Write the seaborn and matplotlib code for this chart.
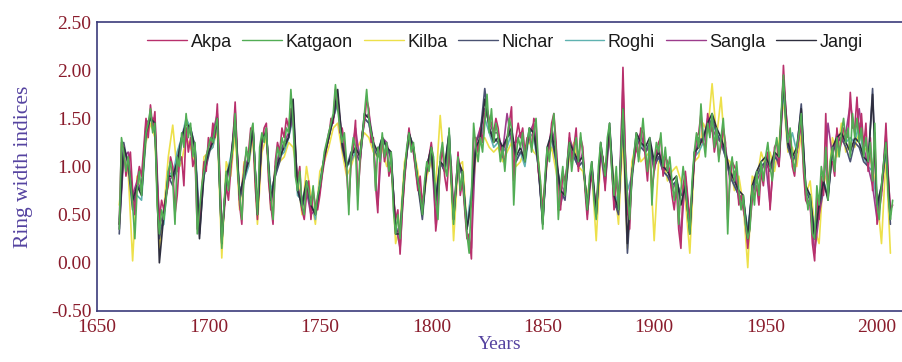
import numpy as np
import pandas as pd
import seaborn as sns
import matplotlib.pyplot as plt
from matplotlib.ticker import MultipleLocator

# yearly chronologies, 1660-2007
years_annual = list(range(1660, 2008))
katgaon = [
    0.35, 1.30, 1.15, 0.95, 1.10, 0.85, 0.60, 0.25, 0.75, 0.95,
    0.70, 1.05, 1.35, 1.45, 1.60, 1.35, 1.45, 0.60, 0.30, 0.55,
    0.45, 0.65, 0.95, 1.05, 0.85, 0.40, 1.10, 1.00, 1.35, 1.20,
    1.55, 1.30, 1.45, 1.10, 1.25, 0.30, 0.55, 0.80, 0.95, 1.10,
    1.20, 1.30, 1.25, 1.40, 1.50, 0.85, 0.15, 0.60, 0.95, 0.75,
    1.05, 1.20, 1.55, 1.00, 0.70, 0.45, 0.90, 1.20, 1.05, 1.35,
    1.45, 0.95, 0.50, 1.20, 1.35, 1.25, 1.40, 0.95, 0.70, 0.45,
    0.95, 1.20, 1.10, 1.30, 1.20, 1.40, 1.35, 1.80, 1.45, 0.90,
    0.75, 0.95, 0.60, 0.50, 0.85, 0.75, 0.60, 0.80, 0.50, 0.70,
    0.80, 0.95, 1.15, 1.25, 1.35, 1.45, 1.55, 1.85, 1.60, 1.40,
    1.25, 1.35, 1.05, 0.50, 1.10, 1.30, 1.20, 0.55, 1.10, 1.30,
    1.55, 1.80, 1.50, 1.35, 1.25, 0.75, 1.20, 1.05, 1.35, 1.10,
    1.25, 0.95, 1.15, 0.55, 0.30, 0.50, 0.25, 0.65, 0.95, 1.20,
    1.35, 1.15, 1.25, 1.00, 0.85, 0.70, 0.50, 0.85, 1.05, 0.95,
    1.20, 1.10, 0.65, 0.45, 1.10, 1.25, 1.00, 0.90, 1.40, 0.85,
    0.40, 0.80, 1.10, 0.75, 0.95, 0.60, 0.30, 0.10, 0.70, 1.45,
    1.20, 1.05, 1.30, 1.15, 1.45, 1.75, 1.35, 1.60, 1.25, 1.45,
    1.30, 1.05, 1.20, 0.95, 1.25, 1.50, 1.40, 0.60, 1.10, 1.30,
    1.20, 1.35, 1.05, 1.25, 1.40, 1.15, 1.35, 1.50, 1.05, 0.85,
    0.35, 0.90, 1.20, 1.05, 1.35, 1.55, 1.10, 0.45, 0.80, 1.00,
    0.70, 1.05, 1.25, 0.95, 1.15, 1.30, 1.05, 1.35, 1.10, 0.80,
    0.55, 0.90, 1.05, 0.65, 0.45, 1.00, 1.25, 1.05, 0.90, 1.30,
    1.45, 0.95, 0.70, 1.00, 0.55, 1.10, 1.60, 1.05, 0.70, 0.45,
    0.90, 1.15, 1.35, 1.05, 1.25, 1.50, 1.20, 0.95, 1.30, 0.60,
    1.05, 1.25, 1.15, 1.35, 1.00, 1.20, 0.95, 1.10, 0.85, 0.65,
    0.90, 0.40, 0.75, 1.00, 0.80, 0.55, 0.30, 0.85, 1.15, 1.35,
    1.20, 1.65, 1.30, 1.10, 1.45, 1.30, 1.55, 1.20, 1.40, 1.05,
    1.30, 1.50, 1.15, 0.30, 0.95, 1.10, 0.85, 1.05, 0.75, 0.55,
    0.70, 0.40, 0.25, 0.35, 0.80, 0.60, 0.95, 0.70, 1.05, 0.85,
    1.10, 1.25, 1.00, 0.85, 1.15, 1.30, 1.10, 1.55, 1.95, 1.50,
    1.25, 1.40, 1.10, 0.95, 1.20, 1.35, 1.55, 1.05, 0.80, 0.55,
    0.70, 0.30, 0.25, 0.80, 0.60, 1.00, 0.85, 1.20, 0.65, 1.05,
    1.20, 0.95, 1.30, 1.10, 1.35, 1.50, 1.25, 1.40, 1.10, 1.55,
    1.30, 1.50, 1.25, 1.40, 1.10, 1.30, 1.05, 1.25, 0.85, 1.45,
    0.60, 0.45, 0.80, 1.05, 1.25, 0.70, 0.45, 0.65,
]
akpa = [
    0.40, 1.25, 1.20, 0.90, 1.05, 1.15, 0.75, 0.50, 0.85, 1.00,
    0.90, 1.20, 1.50, 1.30, 1.64, 1.40, 1.57, 0.85, 0.45, 0.65,
    0.55, 0.70, 0.80, 1.10, 1.00, 0.50, 0.70, 1.05, 1.10, 0.80,
    1.40, 1.15, 1.30, 1.00, 1.10, 0.35, 0.40, 0.75, 1.05, 0.95,
    1.30, 1.20, 1.45, 1.30, 1.65, 1.00, 0.35, 0.50, 0.80, 0.65,
    0.95, 1.25, 1.67, 1.10, 0.60, 0.40, 1.00, 1.15, 1.15, 1.40,
    1.35, 0.80, 0.45, 1.05, 1.25, 1.40, 1.45, 0.85, 0.60, 0.40,
    1.05, 1.25, 1.15, 1.40, 1.30, 1.50, 1.40, 1.60, 1.55, 1.05,
    0.85, 1.00, 0.55, 0.45, 0.70, 0.85, 0.45, 0.75, 0.60, 0.55,
    0.70, 0.90, 1.05, 1.20, 1.30, 1.50, 1.45, 1.80, 1.75, 1.35,
    1.40, 1.25, 0.95, 0.60, 1.05, 1.20, 1.48, 0.70, 1.00, 1.35,
    1.45, 1.70, 1.60, 1.25, 1.30, 0.80, 0.52, 1.15, 1.30, 1.05,
    1.20, 0.90, 1.00, 0.70, 0.45, 0.55, 0.09, 0.55, 0.85, 1.15,
    1.40, 1.20, 1.15, 0.95, 0.75, 0.90, 0.60, 0.80, 0.95, 1.10,
    1.25, 1.05, 0.33, 0.55, 1.00, 1.20, 0.90, 0.75, 1.15, 1.00,
    0.55, 0.75, 1.15, 0.70, 0.85, 0.55, 0.25, 0.30, 0.04, 1.30,
    1.30, 1.15, 1.40, 1.25, 1.55, 1.60, 1.50, 1.45, 1.35, 1.50,
    1.40, 1.20, 1.10, 1.05, 1.30, 1.45, 1.62, 0.85, 1.30, 1.45,
    1.30, 1.40, 1.15, 1.30, 1.30, 1.20, 1.50, 1.45, 0.95, 0.80,
    0.55, 0.85, 1.10, 1.20, 1.45, 1.55, 1.25, 0.55, 0.55, 0.95,
    0.85, 1.00, 1.35, 1.05, 1.20, 1.40, 0.95, 1.30, 1.20, 0.75,
    0.45, 0.80, 0.90, 0.75, 0.55, 0.90, 1.15, 1.10, 0.75, 1.20,
    1.35, 1.00, 0.55, 0.90, 0.60, 1.00, 2.03, 1.15, 0.55, 0.35,
    0.95, 1.05, 1.20, 1.10, 1.40, 1.35, 1.10, 0.85, 1.20, 0.75,
    0.95, 1.15, 1.25, 1.30, 0.90, 1.10, 1.05, 0.95, 0.70, 0.55,
    0.80, 0.35, 0.15, 0.80, 0.95, 0.70, 0.45, 0.75, 1.05, 1.30,
    1.35, 1.55, 1.25, 1.20, 1.55, 1.35, 1.40, 1.15, 1.30, 1.10,
    1.20, 1.40, 1.25, 0.45, 0.85, 1.05, 1.00, 0.95, 0.60, 0.70,
    0.55, 0.45, 0.15, 0.40, 0.65, 0.70, 0.80, 0.60, 0.95, 0.80,
    1.05, 1.15, 0.55, 0.90, 1.20, 1.25, 1.00, 1.40, 2.05, 1.60,
    1.35, 1.30, 1.00, 0.90, 1.15, 1.30, 1.45, 0.95, 0.65, 0.60,
    0.60, 0.20, 0.02, 0.70, 0.45, 0.90, 0.70, 1.55, 0.75, 1.00,
    1.05, 0.90, 1.40, 1.15, 1.25, 1.40, 1.35, 1.30, 1.77, 1.40,
    1.40, 1.72, 1.30, 1.55, 1.20, 1.45, 0.95, 1.30, 0.75, 1.35,
    0.40, 0.55, 0.70, 1.00, 1.45, 0.90, 0.55, 0.60,
]

# the other sites, read every second year, 1660-2006
years_biennial = list(range(1660, 2007, 2))
kilba = [
    0.60, 1.10, 0.95, 0.02, 0.90, 0.80, 1.25, 1.45, 1.30, 0.15,
    0.55, 1.10, 1.43, 0.95, 1.05, 1.30, 1.20, 1.05, 0.35, 1.10,
    1.15, 1.20, 1.40, 0.05, 1.05, 0.90, 1.35, 0.55, 1.05, 1.00,
    1.30, 0.40, 1.15, 1.30, 0.55, 1.00, 1.05, 1.10, 1.25, 1.20,
    0.90, 0.50, 1.00, 0.70, 0.40, 0.95, 1.05, 1.20, 1.40, 1.45,
    1.15, 0.90, 1.00, 1.15, 1.25, 1.35, 1.30, 1.15, 1.10, 1.20,
    1.00, 1.05, 0.20, 0.40, 1.05, 1.25, 1.20, 0.95, 0.55, 0.90,
    1.05, 0.80, 1.53, 0.95, 1.25, 0.23, 1.00, 1.05, 0.40, 0.60,
    1.10, 1.25, 1.30, 1.20, 1.15, 1.20, 1.05, 1.15, 1.25, 1.00,
    1.05, 1.20, 1.25, 1.15, 1.10, 0.55, 1.05, 1.20, 0.95, 0.65,
    0.75, 1.10, 1.25, 1.00, 0.95, 0.70, 0.95, 0.23, 1.10, 1.00,
    1.30, 0.85, 0.40, 1.30, 0.15, 1.05, 1.25, 1.05, 1.10, 1.15,
    0.23, 1.05, 1.10, 0.85, 0.95, 1.00, 0.85, 0.65, 0.10, 1.05,
    1.10, 1.45, 1.35, 1.86, 1.30, 1.72, 1.10, 1.05, 0.75, 0.90,
    0.60, -0.05, 0.90, 0.85, 1.15, 1.00, 1.15, 0.95, 1.25, 1.70,
    1.15, 1.20, 1.00, 1.35, 0.70, 0.85, 0.35, 0.20, 0.95, 0.80,
    1.30, 1.10, 1.45, 1.15, 1.25, 1.20, 1.35, 1.20, 1.15, 1.00,
    0.70, 0.20, 1.10, 0.10,
]
nichar = [
    0.30, 1.25, 1.00, 0.55, 0.80, 0.75, 1.40, 1.50, 1.40, 0.25,
    0.50, 0.90, 0.80, 1.05, 1.30, 1.45, 1.35, 1.20, 0.30, 0.90,
    1.10, 1.30, 1.45, 0.20, 0.90, 1.00, 1.50, 0.65, 0.85, 1.10,
    1.40, 0.55, 1.30, 1.35, 0.65, 0.90, 1.05, 1.25, 1.30, 1.60,
    0.80, 0.55, 0.80, 0.55, 0.55, 0.75, 1.10, 1.30, 1.50, 1.70,
    1.20, 0.99, 1.15, 1.15, 1.05, 1.50, 1.45, 1.20, 1.10, 1.30,
    1.20, 1.10, 0.35, 0.30, 0.90, 1.35, 1.20, 0.80, 0.45, 1.00,
    1.15, 0.60, 1.05, 0.95, 1.35, 0.45, 1.05, 0.90, 0.35, 0.65,
    1.25, 1.35, 1.81, 1.40, 1.30, 1.25, 1.15, 1.30, 1.35, 1.05,
    1.15, 1.10, 1.35, 1.40, 1.00, 0.40, 1.15, 1.30, 1.05, 0.75,
    0.65, 1.20, 1.10, 1.00, 1.05, 0.60, 1.00, 0.50, 1.20, 0.85,
    1.40, 0.65, 0.50, 1.55, 0.10, 0.85, 1.30, 1.20, 1.15, 1.25,
    1.00, 1.10, 0.95, 0.90, 0.80, 0.85, 0.70, 0.75, 0.35, 1.10,
    1.25, 1.30, 1.40, 1.50, 1.35, 1.25, 1.10, 0.90, 0.80, 0.70,
    0.65, 0.30, 0.75, 0.90, 1.00, 1.05, 0.95, 1.10, 1.05, 1.85,
    1.20, 1.05, 1.15, 1.65, 0.75, 0.65, 0.30, 0.55, 0.80, 0.70,
    1.15, 1.25, 1.30, 1.20, 1.05, 1.25, 1.20, 1.05, 1.00, 1.81,
    0.55, 0.75, 1.20, 0.40,
]
roghi = [
    0.45, 1.15, 1.05, 0.65, 0.70, 0.65, 1.30, 1.55, 1.40, 0.35,
    0.40, 0.95, 0.90, 1.15, 1.30, 1.50, 1.40, 1.20, 0.50, 0.90,
    1.15, 1.20, 1.45, 0.25, 0.90, 1.10, 1.45, 0.75, 0.85, 1.00,
    1.40, 0.55, 1.30, 1.35, 0.75, 0.90, 1.10, 1.15, 1.30, 1.50,
    0.70, 0.65, 0.80, 0.65, 0.45, 0.85, 1.10, 1.30, 1.50, 1.65,
    1.30, 1.00, 1.05, 1.15, 1.15, 1.50, 1.45, 1.20, 1.15, 1.30,
    1.20, 1.10, 0.35, 0.35, 0.95, 1.30, 1.20, 0.85, 0.55, 1.00,
    1.15, 0.70, 1.05, 0.95, 1.35, 0.50, 1.05, 0.90, 0.40, 0.75,
    1.15, 1.25, 1.50, 1.35, 1.20, 1.25, 1.15, 1.20, 1.35, 1.05,
    1.15, 1.00, 1.35, 1.30, 1.00, 0.45, 1.15, 1.30, 1.05, 0.80,
    0.75, 1.20, 1.10, 1.00, 1.05, 0.60, 1.00, 0.50, 1.20, 0.90,
    1.40, 0.75, 0.60, 1.50, 0.75, 0.90, 1.30, 1.25, 1.15, 1.25,
    1.00, 1.10, 0.95, 0.90, 0.80, 0.85, 0.70, 0.80, 0.40, 1.10,
    1.15, 1.25, 1.40, 1.45, 1.35, 1.25, 1.10, 0.90, 0.80, 0.70,
    0.65, 0.35, 0.75, 0.90, 1.00, 1.05, 0.95, 1.10, 1.05, 1.80,
    1.20, 1.35, 1.15, 1.45, 0.80, 0.65, 0.35, 0.60, 0.85, 0.70,
    1.15, 1.25, 1.30, 1.25, 1.30, 1.25, 1.45, 1.10, 1.00, 0.95,
    0.60, 0.80, 1.15, 0.50,
]
sangla = [
    0.35, 1.10, 1.15, 0.70, 0.85, 0.75, 1.45, 1.50, 1.50, 0.40,
    0.50, 0.85, 0.90, 0.95, 1.25, 1.40, 1.35, 1.15, 0.40, 1.00,
    1.20, 1.35, 1.55, 0.30, 0.85, 1.00, 1.60, 0.65, 0.95, 1.10,
    1.40, 0.50, 1.25, 1.40, 0.55, 1.00, 1.15, 1.25, 1.35, 1.50,
    0.80, 0.60, 0.75, 0.50, 0.55, 0.75, 1.10, 1.35, 1.50, 1.70,
    1.30, 1.00, 1.10, 1.40, 1.05, 1.50, 1.55, 1.25, 0.60, 1.30,
    1.25, 1.05, 0.40, 0.15, 0.90, 1.35, 1.15, 0.80, 0.55, 1.00,
    1.20, 0.40, 1.05, 0.95, 1.20, 0.50, 1.10, 0.90, 0.30, 0.15,
    1.25, 1.40, 1.60, 1.45, 1.35, 1.35, 1.15, 1.55, 1.25, 1.25,
    1.35, 1.10, 1.35, 1.45, 1.00, 0.45, 1.10, 1.40, 1.20, 0.60,
    0.80, 1.30, 1.15, 1.00, 1.15, 0.50, 0.95, 0.50, 1.15, 0.80,
    1.35, 0.60, 0.55, 1.85, 0.50, 0.95, 1.25, 1.35, 1.15, 1.20,
    0.95, 1.20, 0.95, 1.00, 0.75, 0.85, 0.25, 0.90, 0.40, 1.05,
    1.30, 1.25, 1.50, 1.40, 1.30, 1.25, 1.20, 0.85, 0.95, 0.65,
    0.60, 0.20, 0.70, 0.85, 0.95, 1.05, 0.60, 1.15, 1.00, 1.95,
    1.30, 1.05, 1.15, 1.50, 0.70, 0.60, 0.10, 0.50, 0.75, 1.45,
    1.10, 1.35, 1.25, 1.35, 1.65, 1.35, 1.60, 1.20, 1.00, 0.80,
    0.45, 0.75, 1.35, 0.50,
]
jangi = [
    0.40, 1.20, 1.05, 0.65, 0.80, 0.70, 1.35, 1.50, 1.45, 0.00,
    0.50, 0.90, 0.90, 1.05, 1.30, 1.45, 1.40, 1.20, 0.25, 0.95,
    1.15, 1.25, 1.50, 0.20, 0.90, 1.05, 1.50, 0.70, 0.90, 1.05,
    1.40, 0.50, 1.30, 1.35, 0.65, 0.95, 1.10, 1.20, 1.30, 1.70,
    0.75, 0.60, 0.85, 0.60, 0.50, 0.80, 1.10, 1.30, 1.50, 1.80,
    1.25, 1.00, 1.10, 1.20, 1.10, 1.55, 1.50, 1.25, 1.15, 1.30,
    1.20, 1.15, 0.30, 0.30, 0.95, 1.35, 1.20, 0.85, 0.50, 1.00,
    1.20, 0.65, 1.05, 1.00, 1.35, 0.45, 1.05, 0.95, 0.35, 0.65,
    1.20, 1.30, 1.70, 1.40, 1.25, 1.30, 1.20, 1.30, 1.40, 1.10,
    1.20, 1.05, 1.40, 1.35, 1.05, 0.40, 1.20, 1.35, 1.10, 0.75,
    0.70, 1.25, 1.15, 1.05, 1.10, 0.55, 1.05, 0.50, 1.25, 0.90,
    1.45, 0.70, 0.55, 1.60, 0.20, 0.90, 1.35, 1.25, 1.20, 1.30,
    1.05, 1.15, 1.00, 0.95, 0.85, 0.90, 0.60, 0.80, 0.30, 1.15,
    1.20, 1.30, 1.45, 1.55, 1.40, 1.30, 1.15, 0.95, 0.85, 0.75,
    0.70, 0.25, 0.80, 0.95, 1.05, 1.10, 1.00, 1.15, 1.10, 1.90,
    1.25, 1.10, 1.20, 1.60, 0.80, 0.70, 0.25, 0.60, 0.85, 0.65,
    1.20, 1.30, 1.35, 1.25, 1.15, 1.30, 1.25, 1.10, 1.05, 1.75,
    0.60, 0.80, 1.25, 0.45,
]

# name, years, values, colour, z-order (legend order is call order)
series = [
    ("Akpa", years_annual, akpa, "#b8306c", 6),
    ("Katgaon", years_annual, katgaon, "#52ad55", 9),
    ("Kilba", years_biennial, kilba, "#ede04a", 2),
    ("Nichar", years_biennial, nichar, "#4a5272", 5),
    ("Roghi", years_biennial, roghi, "#5fb2b0", 3),
    ("Sangla", years_biennial, sangla, "#9c3c8c", 4),
    ("Jangi", years_biennial, jangi, "#2e2e3e", 7),
]

sns.set_theme(style="white")
plt.rcParams["font.family"] = ["Liberation Serif", "DejaVu Serif"]

navy = "#3b3b7a"
tick_red = "#8a1c2c"
label_blue = "#5543a0"

fig = plt.figure(figsize=(9.02, 3.62), dpi=100)
ax = fig.add_axes([0.1075, 0.141, 0.8925, 0.798])

for name, yrs, vals, col, z in series:
    df = pd.DataFrame({"year": yrs, "index": vals})
    sns.lineplot(data=df, x="year", y="index", color=col, lw=1.2,
                 label=name, zorder=z, ax=ax)

ax.set_xlim(1650, 2011.2)
ax.set_ylim(-0.5, 2.5)
ax.xaxis.set_major_locator(MultipleLocator(50))
ax.xaxis.set_minor_locator(MultipleLocator(10))
ax.yaxis.set_major_locator(MultipleLocator(0.5))
ax.yaxis.set_minor_locator(MultipleLocator(0.25))
ax.yaxis.set_major_formatter(plt.FuncFormatter(lambda v, p: f"{v:.2f}"))
ax.tick_params(which="both", direction="in", color=navy, width=1.0,
               labelsize=14, labelcolor=tick_red, pad=4)
ax.tick_params(which="major", length=8)
ax.tick_params(which="minor", length=4.5)
ax.tick_params(axis="x", which="major", pad=6)

for side in ["left", "bottom", "top"]:
    ax.spines[side].set_color(navy)
    ax.spines[side].set_linewidth(1.2)
ax.spines["right"].set_visible(False)

ax.set_xlabel("Years", fontsize=14, color=label_blue, labelpad=0)
ax.set_ylabel("Ring width indices", fontsize=15.5, color=label_blue,
              labelpad=13)

leg = ax.legend(loc="center", bbox_to_anchor=(0.507, 0.93), ncol=7,
                frameon=False, handlelength=2.2, handletextpad=0.2,
                columnspacing=0.6, borderaxespad=0,
                prop={"family": ["Liberation Sans", "DejaVu Sans"],
                      "size": 13})
for h in leg.get_lines():
    h.set_linewidth(1.0)
for t in leg.get_texts():
    t.set_color("#1a1a1a")

fig.savefig("out.png", dpi=100, facecolor="white")
